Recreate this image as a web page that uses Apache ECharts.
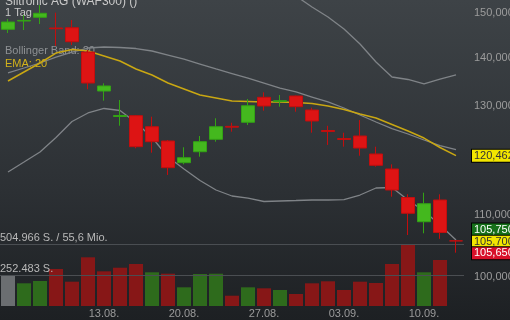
<!DOCTYPE html>
<html><head><meta charset="utf-8">
<script src="https://cdn.jsdelivr.net/npm/echarts@6/dist/echarts.min.js"></script>
<style>html,body{margin:0;padding:0;background:#2a2d31;overflow:hidden}#c{width:510px;height:320px}</style>
</head><body><div id="c"></div>
<script>
// ---- data ----
const dates = ['03.08.','06.08.','07.08.','08.08.','09.08.','10.08.','13.08.','14.08.','15.08.','16.08.','17.08.',
  '20.08.','21.08.','22.08.','23.08.','24.08.','27.08.','28.08.','29.08.','30.08.','31.08.',
  '03.09.','04.09.','05.09.','06.09.','07.09.','10.09.','11.09.','12.09.'];
const tickDates = ['13.08.','20.08.','27.08.','03.09.','10.09.'];
const opens  = [146230,148100,148950,146520,146590,141220,133020,127920,128080,125930,123200,119170,121190,123520,126000,126790,131740,130900,132000,129200,125200,123650,124150,120770,118020,112970,108850,112540,105700];
const closes = [147870,148240,149860,146360,143470,134660,134050,128110,122130,123070,118260,120080,123070,125930,125850,130050,130000,131050,129860,127040,125000,123500,121880,118690,114280,110270,111900,107060,105700];
const lows   = [145400,146070,147420,142530,142750,133370,131060,126120,121830,121010,116940,118870,120270,123070,124970,126260,129060,129860,128860,124780,122450,122130,120450,118440,113110,106650,106930,106030,103800];
const highs  = [148560,149470,151780,150000,148330,141660,134600,131200,128210,127880,123390,122020,124150,127570,126710,131400,132760,132210,132100,129660,126120,124780,127230,122130,118870,113530,113810,113530,105750];
const volumes = [248000,184900,203600,301400,198000,396700,282600,311900,342100,274500,263100,152300,260600,263100,83900,152300,144200,130300,97700,184900,201200,130300,198000,187300,342100,504966,274500,374700,null];
const ema20 = [135080,136960,138860,141000,141770,141440,140360,139290,137590,136330,134660,133430,132210,131600,131000,130900,130800,130800,130700,130500,129990,129300,128410,127620,126360,125100,123760,121980,120462];
const bbMiddle = [136750,137800,138860,140140,141220,142090,142310,142200,141980,141440,140570,139710,138640,137590,136640,135700,134660,133630,132820,131800,130800,129600,128210,126840,125580,124530,123390,122340,121600];
const bbUpper = [null,null,null,null,null,null,null,null,null,null,null,null,null,null,167700,164640,161390,157720,153890,151320,149010,146300,142970,139070,135910,135390,134460,135490,136330];
const bbLower = [117480,119290,121140,123860,126940,128610,129500,129100,126750,123860,120210,118020,115960,114277,113230,112880,112280,112370,112450,112540,112540,112620,113400,114630,114720,112540,110650,108300,105840];
const priceTicks = [100000,110000,120000,130000,140000,150000];
const emaLast = 120462;
const quoteHigh = 105750, quoteLast = 105700, quoteLow = 105650;
const volTop = 504966, volHalf = 252483;
const volTexts = ['504.966 S. / 55,6 Mio.', '252.483 S.'];
const titleText = 'Siltronic AG (WAF300) ()';
const periodText = '1 Tag';
const bbText = 'Bollinger Band: 20';
const emaText = 'EMA: 20';

// ---- chart ----
const FONT = 'Liberation Sans, Arial, sans-serif';
const fmt = v => Number(v).toLocaleString('en-US');
const candleData = opens.map((o,i)=>[o, closes[i], lows[i], highs[i]]);
const volData = volumes.map((v,i)=>{
  let col = '#6b6e71';
  if (i>0) col = closes[i] >= closes[i-1] ? '#2e6b1c' : '#871717';
  return {value: v, itemStyle:{color: col}};
});

const chart = echarts.init(document.getElementById('c'), null, {renderer:'canvas'});
const quoteLabel = (bg, fg, off) => ({
  show:true, position:'end', distance:8, offset:[0,off],
  formatter: p => fmt(p.value), color: fg, backgroundColor: bg,
  borderColor:'#000', borderWidth:1, padding:[1,2,0,2],
  fontSize:11, fontFamily: FONT
});
chart.setOption({
  animation:false,
  backgroundColor: {type:'linear', x:0, y:0, x2:0, y2:1,
    colorStops:[{offset:0,color:'#3e4347'},{offset:0.6,color:'#2c3034'},{offset:1,color:'#1d2023'}]},
  grid:[
    {left:0, right:46, top:0, bottom:20},
    {left:0, right:46, top:244, bottom:14}
  ],
  xAxis:[
    {type:'category', gridIndex:0, data:dates, boundaryGap:true, show:false},
    {type:'category', gridIndex:1, data:dates, boundaryGap:true,
     axisLine:{show:false}, axisTick:{show:false},
     axisLabel:{interval:(idx,val)=>tickDates.includes(val), color:'#9a9a9a', fontSize:11, fontFamily:FONT, margin:2}}
  ],
  yAxis:[
    {type:'log', gridIndex:0, min:96533, max:152951, show:false, splitLine:{show:false}},
    {type:'value', gridIndex:1, min:0, max:volTop, show:false, splitLine:{show:false}}
  ],
  graphic:[
    {type:'text', left:5, top:-4, style:{text:titleText, fill:'#c9c9c9', font:'12px '+FONT}},
    {type:'text', left:5, top:7, style:{text:periodText, fill:'#c9c9c9', font:'11px '+FONT}},
    {type:'text', left:5, top:45, style:{text:bbText, fill:'#8e9194', font:'11px '+FONT}},
    {type:'text', left:5, top:58, style:{text:emaText, fill:'#d2b21c', font:'11px '+FONT}}
  ],
  series:[
    {type:'bar', xAxisIndex:1, yAxisIndex:1, data:volData, barWidth:14, z:1,
     markLine:{silent:true, symbol:'none', lineStyle:{color:'#4a4e52', width:1, type:'solid'},
       label:{position:'insideStartTop', distance:[0,1], color:'#b8b8b8', fontSize:11, fontFamily:FONT,
         formatter:p=> p.value===volTop ? volTexts[0] : volTexts[1]},
       data:[{yAxis:volTop},{yAxis:volHalf}]}},
    {type:'line', name:'BB upper', data:bbUpper, symbol:'none', lineStyle:{color:'#7f8387', width:1.3}, z:3},
    {type:'line', name:'BB middle', data:bbMiddle, symbol:'none', lineStyle:{color:'#7f8387', width:1.3}, z:3,
     markLine:{silent:true, symbol:'none', lineStyle:{color:'rgba(0,0,0,0)', width:0},
       label:{position:'end', distance:10, formatter:p=>fmt(p.value), color:'#9c9c9c', fontSize:11, fontFamily:FONT},
       data: priceTicks.map(v=>({yAxis:v}))}},
    {type:'line', name:'BB lower', data:bbLower, symbol:'none', lineStyle:{color:'#7f8387', width:1.3}, z:3},
    {type:'line', name:'EMA', data:ema20, symbol:'none', lineStyle:{color:'#c9a712', width:1.5}, z:4,
     markLine:{silent:true, symbol:'none', lineStyle:{color:'rgba(0,0,0,0)', width:0}, z:10,
       data:[
         {yAxis:emaLast, label:quoteLabel('#f2e600','#333',0)},
         {yAxis:quoteHigh, label:quoteLabel('#16701a','#ffffff',-11)},
         {yAxis:quoteLast, label:quoteLabel('#f2e600','#333',1)},
         {yAxis:quoteLow, label:quoteLabel('#d8102a','#ffffff',12)}
       ]}},
    {type:'candlestick', data:candleData, barWidth:13, z:5,
     itemStyle:{color:'#44b81e', color0:'#dd1414', borderColor:'#33a315', borderColor0:'#c20e0e', borderWidth:1}}
  ]
});
</script></body></html>
